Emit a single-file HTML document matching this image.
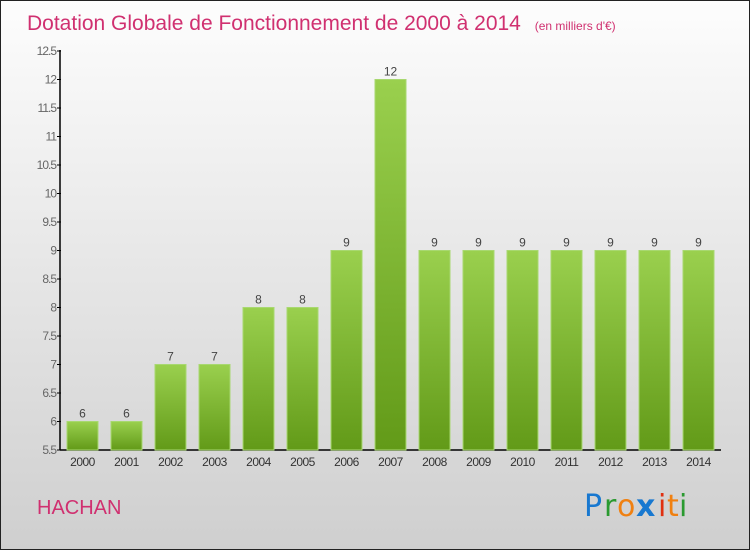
<!DOCTYPE html>
<html><head><meta charset="utf-8"><style>
body{margin:0}
#c{width:748px;height:548px;border:1px solid #222;background:linear-gradient(#fdfdfd,#cfcfcf);position:relative;font-family:"Liberation Sans",sans-serif;overflow:hidden}
</style></head><body>
<div id="c">
<svg id="s" width="748" height="548">
<defs><linearGradient id="g" x1="0" y1="0" x2="0" y2="1"><stop offset="0" stop-color="#9ad04e"/><stop offset="1" stop-color="#629a18"/></linearGradient></defs>
<text x="26" y="29" font-size="21" fill="#d03070">Dotation Globale de Fonctionnement de 2000 à 2014 <tspan font-size="12" dx="8">(en milliers d'€)</tspan></text>
<text x="36" y="513" font-size="20" fill="#d03070">HACHAN</text>
<g font-size="30" font-family="'DejaVu Sans',sans-serif">
<text x="583" y="515" fill="#1878d0">P</text><text x="603" y="515" fill="#2a9a30">r</text><text x="616" y="515" fill="#f08010">o</text><text x="635" y="515" fill="#1878d0" font-weight="bold">x</text><text x="657" y="515" fill="#e03010">i</text><text x="666" y="515" fill="#f08010">t</text><text x="678" y="515" fill="#2a9a30">i</text></g>
<g id="ax"></g><g id="bars"></g>
</svg></div>
<script>
const years=["2000","2001","2002","2003","2004","2005","2006","2007","2008","2009","2010","2011","2012","2013","2014"];
const values=[6,6,7,7,8,8,9,12,9,9,9,9,9,9,9];
const ticks=[5.5,6,6.5,7,7.5,8,8.5,9,9.5,10,10.5,11,11.5,12,12.5];
const tickLabels=["5.5","6","6.5","7","7.5","8","8.5","9","9.5","10","10.5","11","11.5","12","12.5"];
const NS="http://www.w3.org/2000/svg";
const y=v=>449-(v-5.5)*(399/7);
const x=i=>66+i*44;
function mk(t,a,p){const e=document.createElementNS(NS,t);for(const k in a)e.setAttribute(k,a[k]);p.appendChild(e);return e;}
const ax=document.getElementById('ax'),bars=document.getElementById('bars');
let l=mk('line',{x1:59,y1:49,x2:59,y2:449,stroke:'#000','stroke-width':1.5},ax);


l=mk('line',{x1:59,y1:449,x2:720,y2:449,stroke:'#000','stroke-width':1.5},ax);


ticks.forEach((t,i)=>{
 const tl=mk('line',{x1:56,x2:60,y1:y(t),y2:y(t),stroke:'#000'},ax);
 
 
 const tx=mk('text',{x:55,y:y(t)+4,'font-size':12,fill:'#666','text-anchor':'end','letter-spacing':'-1'},ax);
 tx.textContent=tickLabels[i];
 
 
});
years.forEach((yr,i)=>{
 const r=mk('rect',{x:x(i),y:y(values[i]),width:31,height:449-y(values[i]),fill:'url(#g)',stroke:'#a8d870','stroke-width':1},bars);
 
 
 const v=mk('text',{x:x(i)+15.5,y:y(values[i])-4,'font-size':12,fill:'#444','text-anchor':'middle'},bars);
 v.textContent=values[i];
 
 
 const xl=mk('text',{x:x(i)+15.5,y:465,'font-size':12,fill:'#333','text-anchor':'middle','letter-spacing':'-0.5'},bars);
 xl.textContent=yr;
 
 
});
</script>
</body></html>
